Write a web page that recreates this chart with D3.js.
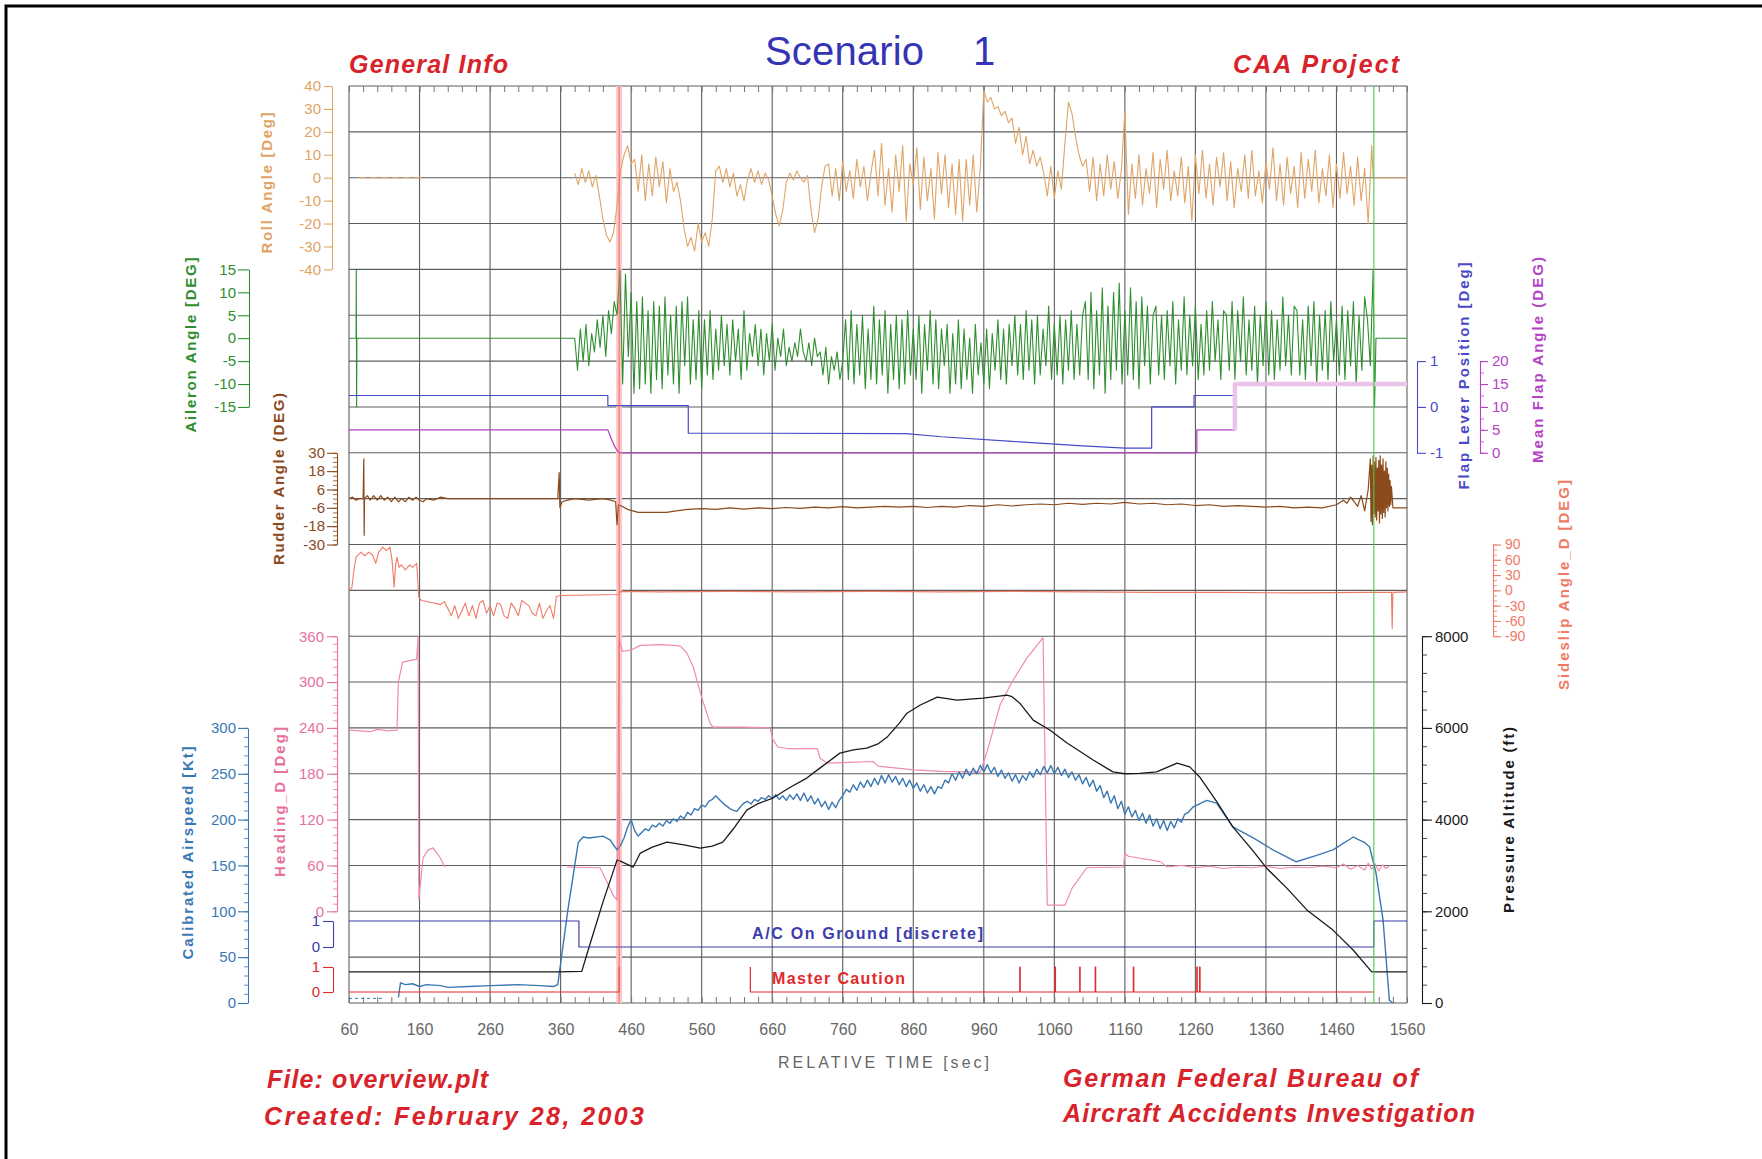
<!DOCTYPE html>
<html><head><meta charset="utf-8">
<script src="https://cdn.jsdelivr.net/npm/d3@7"></script>
<style>body{margin:0;background:#fff} svg{display:block}</style>
</head><body>
<svg id="c" width="1762" height="1159"></svg>
<script>
// ---------------- DATA ----------------
const timeTicks = [60,160,260,360,460,560,660,760,860,960,1060,1160,1260,1360,1460,1560];
const rollTicks = [40,30,20,10,0,-10,-20,-30,-40];
const aileronTicks = [15,10,5,0,-5,-10,-15];
const rudderTicks = [30,18,6,-6,-18,-30];
const flapLeverTicks = [1,0,-1];
const meanFlapTicks = [20,15,10,5,0];
const sideslipTicks = [90,60,30,0,-30,-60,-90];
const headingTicks = [360,300,240,180,120,60,0];
const speedTicks = [300,250,200,150,100,50,0];
const altitudeTicks = [8000,6000,4000,2000,0];
const discreteTicks = [1,0];

const markerRed = 443, markerGreen = 1513;

// Roll angle [deg]
const rollTaxi = [[74,0],[164,0]];
const rollStart = 380, rollStep = 5;
const rollValues = [2,-3,4,-2,3,-4,1,
 -8,-18,-25,-28,-24,
 -12,3,
 10,14,6,
 8,-6,10,-10,6,-8,9,-4,7,-11,4,-6,-2,
 -10,-22,-30,-26,-32,-20,-28,-24,-30,-18,
 3,5,-2,4,-4,2,-8,-3,-10,-1,
 4,-2,3,-3,2,-1,
 -8,-16,-21,-14,-2,
 2,-1,3,0,-2,1,
 -14,-24,-18,-4,5,
 6,-8,4,-10,7,-6,3,-9,8,-4,5,-10,2,
 12,-8,15,-12,4,-15,10,-6,14,-19,6,-3,13,-14,9,-10,4,-18,11,-7,10,-13,6,-16,8,
 -19,8,-12,10,-15,4,
 38,33,35,30,31,27,29,24,
 26,15,22,10,18,6,12,5,9,
 2,-8,5,-9,3,-5,
 15,33,28,18,10,5,
 8,-6,9,-10,6,-8,10,-5,7,-9,3,
 29,-16,
 6,-9,10,-12,4,-7,11,-13,8,-5,
 12,-10,3,-8,9,-11,5,-19,10,-7,
 12,-9,6,-12,9,-4,11,-10,7,-13,
 4,-6,10,-9,12,-8,3,-11,7,-5,
 13,-10,6,-12,9,-7,5,-13,11,-9,
 8,-6,12,-11,4,-8,10,-13,6,-9,
 11,-7,5,-12,9,-10,4,
 -20,14];
const rollTail = [[1512,0],[1560,0]];

// Aileron angle [deg]
const aileronLead = [[60,0],[70,0],[70.3,15],[70.8,-15],[71.2,0],[380,0]];
const aileronStart = 384, aileronStep = 4;
const aileronValues = [-7,2,-5,3,-6,1,-3,4,-2,5,-4,6,1,8,5,
 15,-10,14,-4,
 10,-12,8,-11,9,-10,6,-12,8,-9,7,-11,9,-8,5,-10,7,-12,8,-6,9,-10,4,-9,6,-11,
 4,-8,6,-9,2,-7,5,-6,3,-8,4,-5,2,-9,6,-7,1,-4,3,-6,2,-8,1,-5,3,-7,0,-4,2,-6,
 -2,-5,-1,-4,2,-3,-5,-1,-6,0,-4,-3,-8,-2,-10,-4,-7,-3,-9,-5,
 4,-9,6,-10,3,-8,5,-11,2,-9,7,-10,4,-8,6,-12,3,-9,5,-11,4,-10,6,-8,2,-9,5,-12,3,-7,6,-10,4,-11,2,
 -6,3,-12,1,-10,4,-11,2,-9,0,-12,3,-8,-1,-10,2,-11,1,-7,4,-9,2,-10,3,-6,
 5,-8,3,-9,6,-7,4,-10,5,-8,2,-6,7,-9,3,-8,5,-10,4,-7,6,-9,3,-8,5,
 8,-9,10,-11,6,-8,11,-12,7,-9,10,-7,12,-10,6,-8,11,-9,8,-11,9,-6,7,-10,5,
 7,-8,5,-9,6,-6,8,-10,4,-7,9,-8,5,-6,7,-9,3,-8,6,-7,8,-5,4,-9,6,
 5,-7,8,-9,6,-5,9,-8,4,-7,7,-10,5,-6,8,-8,6,-9,4,-7,9,-6,5,-8,7,
 6,-8,4,-9,7,-6,8,-10,5,-7,6,-9,8,-5,4,-8,7,-9,6,-6,8,-10,5,-7,9,
 4,-6,15];
const aileronTail = [[1514,-15],[1516,0],[1560,0]];

// Flap lever position and mean flap angle [deg]
const flapLever = [[60,0.25],[427,0.25],[427,0.03],[541,0.03],[541,-0.57],[850,-0.58],[900,-0.65],[1000,-0.75],[1100,-0.85],[1160,-0.9],[1198,-0.9],[1198,0],[1258,0],[1258,0.25],[1316,0.25],[1316,0.5],[1560,0.5]];
const meanFlap = [[60,5],[427,5],[432,3],[438,1],[443,0],[1262,0],[1262,5],[1316,5],[1316,15],[1560,15]];

// Rudder angle [deg]
const rudder = [[60,0],[65,1],[70,-1],[75,0],[80,0],[81,26],[81.5,-24],[82,0],[86,2],[90,-1],[95,2],[100,-1],[105,2],[110,-1],[115,1],[120,-2],[125,1],[130,-2],[135,0],[140,-2],[145,1],[150,-1],[155,1],[160,-1],[165,-2],[170,0],[180,-1],[190,1],[200,0],[250,0],[300,0],[356,0],[358,17],[359,-6],[362,-2],[370,-1],[380,0],[400,-1],[420,0],[431,-1],[438,-2],[440,-17],[442,-4],[447,-5],[455,-7],[470,-9],[490,-9],[510,-9],[524,-8],[540,-7],
 [560,-6.5],[580,-7],[600,-6],[620,-6.8],[640,-6],[660,-6.5],[680,-5.8],[700,-6.3],[720,-5.5],[740,-6],[760,-5.2],[780,-6],[800,-5.5],[820,-5],[840,-5.5],[860,-5],[880,-5.8],[900,-5],[920,-5.5],[940,-4.5],[960,-5],[980,-4],[1000,-4.8],[1020,-4],[1040,-3.5],[1060,-4],[1080,-3],[1100,-3.8],[1120,-3],[1140,-3.5],[1160,-2.5],[1180,-3.5],[1200,-3],[1220,-4],[1240,-3.5],[1260,-4.5],[1280,-4],[1300,-5],[1320,-4.5],[1340,-5],[1360,-5.5],[1380,-5],[1400,-6],[1420,-5.5],[1440,-6],[1460,-4],[1470,-1],[1475,-3],[1480,1],[1485,-2],[1490,-5],[1495,2],[1500,-8],[1505,6],
 [1508,26],[1509,-15],[1510,22],[1511,-17],[1512,28],[1513,-10],[1514,24],[1515,-12],[1516,27],[1517,-14],[1518,20],[1519,-8],[1520,25],[1521,-16],[1522,28],[1523,-10],[1524,22],[1525,-13],[1526,26],[1527,-9],[1528,18],[1529,-12],[1530,24],[1531,-6],[1532,20],[1533,-8],[1534,16],[1535,-5],[1536,12],[1537,-4],[1538,8],[1540,-6],[1560,-6]];

// Sideslip angle [deg]
const sideslip = [[60,0],[64,5],[67,40],[70,65],[77,75],[82,68],[88,75],[93,70],[96,60],[98,53],[102,75],[108,85],[113,78],[118,85],[121,60],[124,6],[126,50],[128,65],[131,45],[134,50],[140,40],[146,50],[150,45],[156,53],[159,-14],[163,-20],[170,-22],[180,-25],[190,-28],[195,-22],[200,-35],[205,-50],[210,-30],[215,-55],[220,-40],[225,-25],[230,-50],[235,-30],[240,-55],[245,-25],[250,-20],[255,-45],[260,-30],[265,-50],[270,-25],[275,-28],[280,-50],[285,-55],[290,-25],[295,-35],[300,-50],[305,-20],[310,-25],[315,-30],[320,-45],[325,-50],[330,-25],[335,-55],[340,-40],[345,-30],[350,-55],[354,-12],[360,-10],[400,-9],[443,-8],[445,-2],[500,-3],[600,-2],[700,-3],[800,-2],[900,-3],[1000,-2],[1100,-3],[1200,-4],[1300,-4],[1400,-5],[1500,-4],[1538,-4],[1539,-75],[1540,-4],[1560,-3]];

// Heading [deg]
const headingSeg1 = [[60,237],[75,236],[90,235],[100,238],[115,236],[128,237],[130,300],[136,326],[146,328],[156,330],[158,360],[159,15],[165,70],[172,80],[179,83],[188,72],[196,58]];
const headingSeg2 = [[369,58],[416,57],[425,40],[435,20],[440,15],[443,355],[448,340],[460,342],[473,348],[500,349],[520,348],[530,347],[539,338],[548,320],[560,280],[572,246],[576,241],[620,241],[657,240],[661,225],[668,215],[681,213],[724,213],[728,200],[738,194],[770,195],[803,196],[810,190],[860,185],[900,183],[955,182],[965,210],[983,270],[1000,300],[1020,330],[1044,358],[1050,8],[1075,8],[1085,30],[1106,57],[1158,58],[1160,76],[1165,72],[1210,65],[1220,58],[1240,60],[1260,57],[1280,59],[1300,56],[1320,58],[1340,57],[1360,59],[1380,56],[1400,58],[1420,57],[1440,59],[1460,57],[1470,62],[1480,55],[1490,60],[1500,54],[1505,63],[1510,55],[1515,62],[1520,53],[1525,61],[1530,56],[1536,60]];

// Calibrated airspeed [kt]
const speedTaxi = [[60,5],[107,5]];
const speedLead = [[130,6],[133,22],[140,20],[150,21],[160,18],[170,20],[190,19],[200,17],[230,18],[260,19],[300,20],[330,19],[350,18],[356,20],[370,100],[385,175],[392,181],[400,180],[420,182],[430,178]];
const speedStart = 440, speedStep = 5;
const speedValues = [167,172,180,192,200,188,182,186,190,188,194,192,
 196,193,199,196,201,198,204,201,208,205,212,210,
 216,214,220,222,226,222,218,215,212,210,209,214,
 218,220,217,222,220,224,222,226,223,227,222,226,
 221,227,222,228,221,229,220,226,217,223,214,220,
 211,219,213,221,226,233,230,238,232,241,235,243,
 236,245,238,248,240,249,241,247,238,245,236,243,
 234,240,231,238,229,236,228,236,234,243,240,250,
 243,252,245,255,248,256,250,259,252,260,251,257,
 247,254,245,251,242,249,240,248,243,252,246,255,
 249,258,251,259,250,257,248,255,246,252,243,249,
 239,246,236,243,231,237,224,231,218,226,212,220,
 206,214,203,210,199,207,196,205,193,201,190,199,
 188,198,191,201,197,206,208];
const speedTail = [[1257,214],[1276,221],[1290,218],[1313,192],[1342,180],[1370,167],[1403,154],[1432,161],[1455,167],[1484,181],[1500,175],[1507,170],[1516,142],[1526,91],[1535,3],[1540,0]];

// Pressure altitude [ft]
const altitude = [[60,680],[356,680],[390,690],[400,1200],[420,2200],[440,3117],[444,3100],[463,2965],[473,3270],[490,3400],[511,3510],[535,3450],[558,3380],[575,3420],[590,3510],[605,3800],[624,4207],[640,4350],[661,4470],[685,4700],[709,4905],[730,5150],[756,5450],[775,5520],[794,5560],[810,5650],[823,5800],[840,6100],[851,6320],[870,6500],[894,6670],[922,6605],[959,6650],[993,6714],[1000,6680],[1011,6540],[1030,6170],[1054,5950],[1078,5670],[1095,5500],[1115,5300],[1143,5040],[1160,5000],[1181,5010],[1205,5040],[1234,5230],[1252,5150],[1266,4930],[1290,4400],[1313,3840],[1340,3350],[1361,2940],[1390,2500],[1418,2030],[1455,1590],[1484,1150],[1510,680],[1560,680]];

// Discretes
const acOnGround = [[60,1],[386,1],[386,0],[1513,0],[1513,1],[1560,1]];
const cautionLead = [[60,0],[443,0],[443,1]];
const cautionStart = 629, cautionEnd = 1513;
const cautionPulses = [1011,1061,1096,1118,1172,1262,1266];

// ---------------- LAYOUT / STYLE ----------------
const W = 1762, H = 1159;
const L = 349, R = 1407, T = 86, B = 1003;
const rowH = (B - T) / 20;
const yRow = i => T + i * rowH;
const FONT = '"Liberation Sans", Arial, Helvetica, sans-serif';
const C = {
  roll:'#e0a466', aileron:'#2f8f2f', lever:'#4a4ac8', mflap:'#b443c4', mflapPale:'#ecc4ea',
  rudder:'#8a4a1c', slip:'#ef7a66', heading:'#f08ab4', headingTxt:'#e8709e', speed:'#3a78b4',
  alt:'#1a1a1a', ground:'#3c3cae', caution:'#e4282c', grid:'#5e5e5e', text:'#d8232a'
};

const svg = d3.select('#c');
const x = d3.scaleLinear().domain([60,1560]).range([L,R]);
const yRoll = d3.scaleLinear().domain([-40,40]).range([yRow(4), yRow(0)]);
const yAil = d3.scaleLinear().domain([-15,15]).range([yRow(7), yRow(4)]);
const yLever = d3.scaleLinear().domain([-1,1]).range([yRow(8), yRow(6)]);
const yMFlap = d3.scaleLinear().domain([0,20]).range([yRow(8), yRow(6)]);
const yRud = d3.scaleLinear().domain([-30,30]).range([yRow(10), yRow(8)]);
const ySlip = d3.scaleLinear().domain([-90,90]).range([yRow(12), yRow(10)]);
const yHead = d3.scaleLinear().domain([0,360]).range([yRow(18), yRow(12)]);
const ySpd = d3.scaleLinear().domain([0,300]).range([yRow(20), yRow(14)]);
const yAlt = d3.scaleLinear().domain([0,8000]).range([yRow(20), yRow(12)]);
const yGnd = d3.scaleLinear().domain([0,1]).range([947,921]);
const yCau = d3.scaleLinear().domain([0,1]).range([992,967]);

// frame
svg.append('path').attr('d',`M6,${H} V6 H${W}`).attr('fill','none').attr('stroke','#000').attr('stroke-width',3);

// grid
const grid = svg.append('g').attr('stroke',C.grid).attr('stroke-width',1.1);
d3.range(21).forEach(i => grid.append('line').attr('x1',L).attr('x2',R).attr('y1',yRow(i)).attr('y2',yRow(i)));
grid.selectAll('line.v').data(timeTicks).enter().append('line').attr('class','v')
  .attr('x1',d=>x(d)).attr('x2',d=>x(d)).attr('y1',T).attr('y2',B);

// x minor ticks top & bottom
const minorT = d3.range(60,1561,20);
const gxb = svg.append('g').attr('transform',`translate(0,${B})`)
  .call(d3.axisBottom(x).tickValues(minorT).tickSize(-6).tickSizeOuter(0).tickFormat(''));
gxb.select('.domain').remove(); gxb.selectAll('line').attr('stroke','#777');
const gxt = svg.append('g').attr('transform',`translate(0,${T})`)
  .call(d3.axisTop(x).tickValues(minorT).tickSize(-6).tickSizeOuter(0).tickFormat(''));
gxt.select('.domain').remove(); gxt.selectAll('line').attr('stroke','#777');
const gxl = svg.append('g').attr('transform',`translate(0,${B})`)
  .call(d3.axisBottom(x).tickValues(timeTicks).tickSize(0).tickSizeOuter(0).tickPadding(21).tickFormat(d=>String(d)));
gxl.select('.domain').remove();
gxl.selectAll('text').attr('fill','#666').style('font',`16px ${FONT}`);

// ---------- axes helper ----------
function yAxis(scale, xPos, side, major, color, o={}) {
  const mk = side === 'left' ? d3.axisLeft : d3.axisRight;
  const g = svg.append('g').attr('transform',`translate(${xPos},0)`);
  if (o.minor) {
    const gm = g.append('g').call(mk(scale).tickValues(o.minor).tickSize(o.minorLen||4).tickSizeOuter(0).tickFormat(''));
    gm.select('.domain').remove(); gm.selectAll('line').attr('stroke',color).attr('stroke-width',0.8);
  }
  const ga = g.append('g').call(mk(scale).tickValues(major).tickSize(o.len||8).tickSizeOuter(0)
      .tickPadding(o.pad==null?3:o.pad).tickFormat(d=>String(d)));
  ga.select('.domain').attr('stroke',color).attr('stroke-width',1.1);
  ga.selectAll('line').attr('stroke',color).attr('stroke-width',1.1);
  ga.selectAll('text').attr('fill',color).style('font',`${o.fs||15}px ${FONT}`);
  return g;
}
function vTitle(txt, cx, cy, len, color) {
  svg.append('text').attr('transform',`translate(${cx},${cy}) rotate(-90)`)
    .attr('text-anchor','middle').attr('dominant-baseline','central')
    .attr('textLength',len).attr('lengthAdjust','spacing')
    .attr('fill',color).style('font',`bold 15px ${FONT}`).text(txt);
}

yAxis(yRoll, 332, 'left', rollTicks, C.roll, {len:8, pad:3, fs:15});
vTitle('Roll  Angle  [Deg]', 266, 183, 141, C.roll);
yAxis(yAil, 249, 'left', aileronTicks, C.aileron, {len:11, pad:2, fs:15});
vTitle('Aileron  Angle  [DEG]', 190, 345, 175, C.aileron);
yAxis(yRud, 337, 'left', rudderTicks, C.rudder, {len:10, pad:2, fs:15, minor:d3.range(-30,31,3), minorLen:4});
vTitle('Rudder  Angle  (DEG)', 278, 479, 172, C.rudder);
yAxis(yLever, 1417, 'right', flapLeverTicks, C.lever, {len:9, pad:4, fs:15});
vTitle('Flap  Lever  Position  [Deg]', 1463, 376, 227, C.lever);
yAxis(yMFlap, 1480, 'right', meanFlapTicks, C.mflap, {len:8, pad:4, fs:15, minor:d3.range(0,21,2.5), minorLen:4});
vTitle('Mean  Flap  Angle  (DEG)', 1537, 360, 206, C.mflap);
yAxis(ySlip, 1493, 'right', sideslipTicks, C.slip, {len:8, pad:4, fs:14, minor:d3.range(-90,91,10), minorLen:4});
vTitle('Sideslip  Angle_D  [DEG]', 1563, 585, 210, C.slip);
yAxis(yHead, 337, 'left', headingTicks, C.headingTxt, {len:10, pad:3, fs:15, minor:d3.range(0,361,10), minorLen:4});
vTitle('Heading_D  [Deg]', 279, 802, 150, C.headingTxt);
yAxis(ySpd, 248, 'left', speedTicks, C.speed, {len:10, pad:2, fs:15, minor:d3.range(0,301,10), minorLen:4});
vTitle('Calibrated  Airspeed  [Kt]', 187, 853, 213, C.speed);
yAxis(yAlt, 1422, 'right', altitudeTicks, C.alt, {len:10, pad:3, fs:15, minor:d3.range(0,8001,400), minorLen:5});
vTitle('Pressure  Altitude  (ft)', 1508, 820, 186, C.alt);
yAxis(yGnd, 333, 'left', discreteTicks, C.ground, {len:10, pad:3, fs:15});
yAxis(yCau, 333, 'left', discreteTicks, C.caution, {len:10, pad:3, fs:15});

// ---------- plot lines ----------
svg.append('clipPath').attr('id','clip').append('rect').attr('x',L).attr('y',T).attr('width',R-L).attr('height',B-T);
const plot = svg.append('g').attr('clip-path','url(#clip)');
const pairs = (s, st, vals) => vals.map((v,i)=>[s+i*st, v]);
function drawLine(data, ys, color, w, dash, op) {
  plot.append('path').datum(data)
    .attr('d', d3.line().x(d=>x(d[0])).y(d=>ys(d[1])))
    .attr('fill','none').attr('stroke',color).attr('stroke-width',w)
    .attr('stroke-linejoin','round').attr('stroke-dasharray',dash||null).attr('opacity',op==null?1:op);
}

// red marker band
plot.append('rect').attr('x',x(markerRed)-3).attr('y',T).attr('width',6).attr('height',B-T).attr('fill','#fbcaca');

drawLine(rollTaxi, yRoll, C.roll, 1.2, '7,4');
drawLine(pairs(rollStart, rollStep, rollValues).concat(rollTail), yRoll, C.roll, 1.1);

drawLine(aileronLead.concat(pairs(aileronStart, aileronStep, aileronValues), aileronTail), yAil, C.aileron, 1.1);

drawLine(flapLever, yLever, C.lever, 1.2);
drawLine(meanFlap.filter(d=>d[0]<=1316), yMFlap, C.mflap, 1.3);
drawLine(meanFlap.filter(d=>d[0]>=1316), yMFlap, C.mflapPale, 4.5);

drawLine(rudder, yRud, C.rudder, 1.2);
drawLine(sideslip, ySlip, C.slip, 1.1);

drawLine(headingSeg1, yHead, C.heading, 1.2);
drawLine(headingSeg2, yHead, C.heading, 1.2);

drawLine(speedTaxi, ySpd, C.speed, 1, '3,3');
drawLine(speedLead.concat(pairs(speedStart, speedStep, speedValues), speedTail), ySpd, C.speed, 1.4);

drawLine(altitude, yAlt, C.alt, 1.3);

drawLine(acOnGround, yGnd, C.ground, 1.2);

// master caution
drawLine(cautionLead, yCau, C.caution, 1.2);
const cau = [[cautionStart,1],[cautionStart,0]];
cautionPulses.forEach(t => { cau.push([t,0],[t,1],[t+0.6,1],[t+0.6,0]); });
cau.push([cautionEnd,0]);
drawLine(cau, yCau, C.caution, 1.2);

// markers
plot.append('line').attr('x1',x(markerRed)).attr('x2',x(markerRed)).attr('y1',T).attr('y2',B).attr('stroke','#ee6a6a').attr('stroke-width',1.1);
plot.append('line').attr('x1',x(markerGreen)).attr('x2',x(markerGreen)).attr('y1',T).attr('y2',B).attr('stroke','#4cc94c').attr('stroke-width',1.1);

// ---------- texts ----------
function txt(s, xx, yy, o) {
  const t = svg.append('text').attr('x',xx).attr('y',yy).attr('fill',o.color||C.text)
    .attr('text-anchor',o.anchor||'start')
    .style('font',`${o.style||''} ${o.weight||'bold'} ${o.size}px ${FONT}`).text(s);
  if (o.len) t.attr('textLength',o.len).attr('lengthAdjust','spacing');
  return t;
}
txt('Scenario', 765, 65, {color:'#3434b4', size:40, weight:'normal', len:159});
txt('1', 973, 65, {color:'#3434b4', size:40, weight:'normal'});
txt('General  Info', 349, 73, {style:'italic', size:25, len:159});
txt('CAA  Project', 1233, 73, {style:'italic', size:25, len:166});
txt('File:  overview.plt', 267, 1088, {style:'italic', size:25, len:221});
txt('Created:  February  28,  2003', 264, 1125, {style:'italic', size:25, len:380});
txt('German  Federal  Bureau  of', 1063, 1087, {style:'italic', size:25, len:355});
txt('Aircraft  Accidents  Investigation', 1063, 1122, {style:'italic', size:25, len:412});
txt('RELATIVE  TIME  [sec]', 778, 1068, {color:'#666', size:16, weight:'normal', len:211});
txt('A/C  On  Ground  [discrete]', 752, 939, {color:C.ground, size:16, weight:'bold', len:231});
txt('Master  Caution', 772, 984, {color:C.caution, size:16, weight:'bold', len:133});
</script>
</body></html>
